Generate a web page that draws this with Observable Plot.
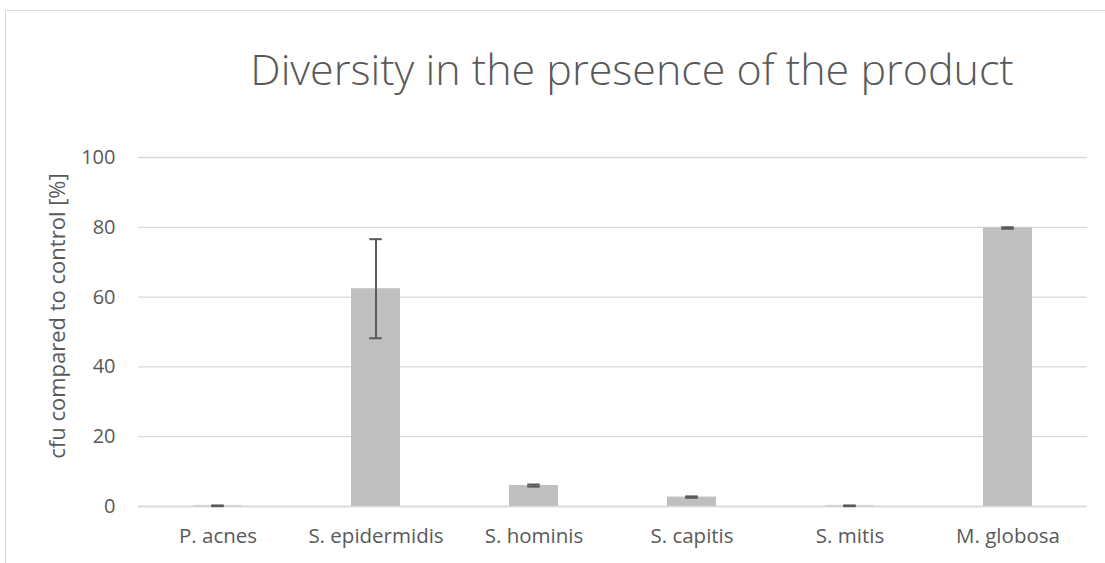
<!DOCTYPE html>
<html>
<head>
<meta charset="utf-8">
<script src="https://cdn.jsdelivr.net/npm/d3@7"></script>
<script src="https://cdn.jsdelivr.net/npm/@observablehq/plot@0.6"></script>
<style>
  html, body { margin: 0; padding: 0; background: #fff; overflow: hidden; }
  #frame { position: absolute; left: 5px; top: 10px; width: 1300px; height: 700px; border: 1px solid #d9d9d9; box-sizing: border-box; }
  #title { position: absolute; left: 0; width: 1264px; top: 40px; text-align: center; font-family: "Open Sans", sans-serif; font-weight: 300; font-size: 43px; line-height: 58px; color: #595959; white-space: nowrap; }
  #chart { position: absolute; left: 0; top: 0; }
</style>
</head>
<body>
<div id="frame"></div>
<div id="title">Diversity in the presence of the product</div>
<div id="chart"></div>
<script>
const categories = ["P. acnes", "S. epidermidis", "S. hominis", "S. capitis", "S. mitis", "M. globosa"];
const means = [0.2, 62.4, 6.0, 2.7, 0.2, 79.8];
const errors = [0.1, 14.2, 0.3, 0.2, 0.1, 0.2];
const yTicks = [0, 20, 40, 60, 80, 100];
const yLabel = "cfu compared to control [%]";

const data = categories.map((c, i) => ({cat: c, mean: means[i], lo: means[i] - errors[i], hi: means[i] + errors[i]}));

const barW = 49;
const capInset = (barW - 12.5) / 2;

const plot = Plot.plot({
  width: 1105,
  height: 563,
  marginLeft: 138,
  marginRight: 18,
  marginTop: 157,
  marginBottom: 57,
  style: {fontFamily: "'Open Sans', sans-serif", color: "#595959", background: "transparent"},
  x: {domain: categories, paddingInner: 0.69, paddingOuter: 0.345, label: null},
  y: {domain: [0, 100], ticks: yTicks, label: null},
  marks: [
    Plot.gridY(yTicks, {stroke: "#d9d9d9", strokeOpacity: 1, strokeWidth: 1.3}),
    Plot.barY(data, {x: "cat", y: "mean", fill: "#bfbfbf"}),
    Plot.ruleY([0], {stroke: "#d9d9d9", strokeWidth: 1.5}),
    Plot.ruleX(data, {x: "cat", y1: "lo", y2: "hi", stroke: "#595959", strokeWidth: 2}),
    Plot.tickY(data, {x: "cat", y: "hi", stroke: "#595959", strokeWidth: 2, insetLeft: capInset, insetRight: capInset}),
    Plot.tickY(data, {x: "cat", y: "lo", stroke: "#595959", strokeWidth: 2, insetLeft: capInset, insetRight: capInset}),
    Plot.axisY(yTicks, {tickSize: 0, tickPadding: 23, fontSize: 20, fill: "#595959", label: null}),
    Plot.axisX({tickSize: 0, tickPadding: 22, fontSize: 20.5, fill: "#595959", label: null}),
    Plot.text([yLabel], {frameAnchor: "left", rotate: -90, dx: -81, dy: -16, fontSize: 22, fill: "#595959", textAnchor: "middle", lineAnchor: "middle"})
  ]
});
document.getElementById("chart").appendChild(plot);
</script>
</body>
</html>
